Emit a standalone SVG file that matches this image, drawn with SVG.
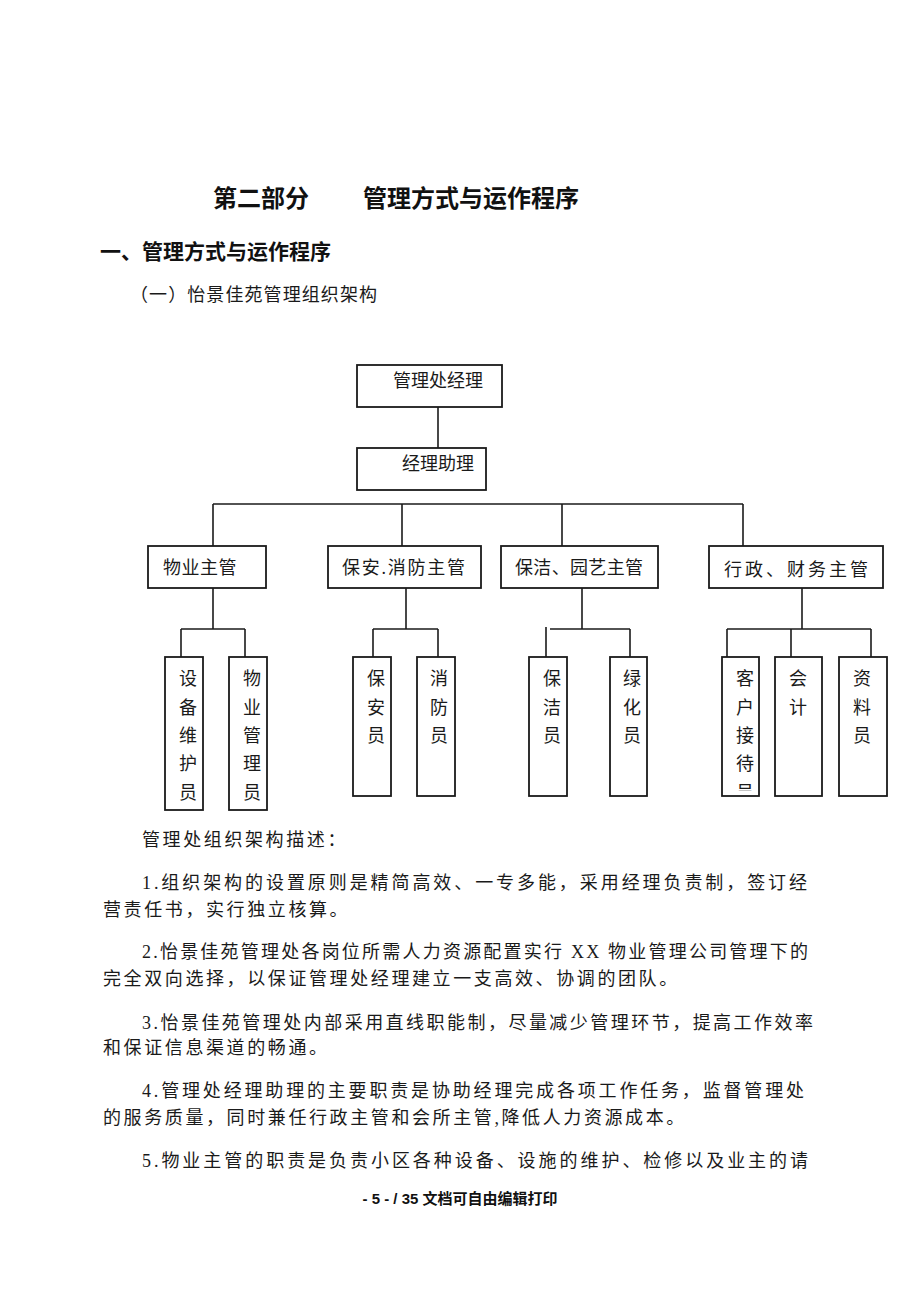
<svg xmlns="http://www.w3.org/2000/svg" width="920" height="1300" viewBox="0 0 920 1300">
<style>
.bg{fill:#ffffff}
.box{fill:#ffffff;stroke:#1a1a1a;stroke-width:1.8}
.ln{stroke:#1a1a1a;stroke-width:1.6;fill:none}
.t{font-family:"Liberation Serif","Noto Sans CJK SC",serif;font-size:18px;fill:#1a1a1a}
.h1{font-family:"Liberation Sans","Noto Sans CJK SC",sans-serif;font-size:24px;font-weight:bold;fill:#111}
.h2{font-family:"Liberation Sans","Noto Sans CJK SC",sans-serif;font-size:21px;font-weight:bold;fill:#111}
.v{font-family:"Liberation Serif","Noto Sans CJK SC",serif;font-size:18px;fill:#1a1a1a;text-anchor:middle}
.p{font-family:"Liberation Serif","Noto Sans CJK SC",serif;font-size:18px;fill:#1a1a1a;letter-spacing:2.6px}
.pj{font-family:"Liberation Serif","Noto Sans CJK SC",serif;font-size:18px;fill:#1a1a1a}
.ft{font-family:"Liberation Sans","Noto Sans CJK SC",sans-serif;font-size:15px;font-weight:bold;fill:#111;text-anchor:middle}
</style>
<defs>
<clipPath id="clipKehu"><rect x="722" y="657" width="37" height="134"/></clipPath>
</defs>
<rect class="bg" x="0" y="0" width="920" height="1300"/>

<g id="titles">
<text class="h1" x="213" y="207">第二部分</text>
<text class="h1" x="363" y="207">管理方式与运作程序</text>
<text class="h2" x="100" y="259">一、管理方式与运作程序</text>
<text class="t" x="130" y="301" textLength="247" lengthAdjust="spacing">（一）怡景佳苑管理组织架构</text>
</g>

<g id="connectors">
<line class="ln" x1="438" y1="407" x2="438" y2="448"/>
<line class="ln" x1="213" y1="504" x2="743" y2="504"/>
<line class="ln" x1="213" y1="504" x2="213" y2="546"/>
<line class="ln" x1="402" y1="504" x2="402" y2="546"/>
<line class="ln" x1="562" y1="504" x2="562" y2="546"/>
<line class="ln" x1="743" y1="504" x2="743" y2="546"/>

<line class="ln" x1="213" y1="588" x2="213" y2="629"/>
<line class="ln" x1="181" y1="629" x2="245" y2="629"/>
<line class="ln" x1="181" y1="629" x2="181" y2="657"/>
<line class="ln" x1="245" y1="629" x2="245" y2="657"/>

<line class="ln" x1="406" y1="588" x2="406" y2="629"/>
<line class="ln" x1="373" y1="629" x2="438" y2="629"/>
<line class="ln" x1="373" y1="629" x2="373" y2="657"/>
<line class="ln" x1="438" y1="629" x2="438" y2="657"/>

<line class="ln" x1="582" y1="588" x2="582" y2="629"/>
<line class="ln" x1="550" y1="629" x2="630" y2="629"/>
<line class="ln" x1="546" y1="627" x2="546" y2="657"/>
<line class="ln" x1="630" y1="629" x2="630" y2="657"/>

<line class="ln" x1="802" y1="588" x2="802" y2="629"/>
<line class="ln" x1="727" y1="629" x2="871" y2="629"/>
<line class="ln" x1="727" y1="629" x2="727" y2="657"/>
<line class="ln" x1="791" y1="629" x2="791" y2="657"/>
<line class="ln" x1="871" y1="629" x2="871" y2="657"/>
</g>

<g id="n-manager">
<rect class="box" x="357" y="365" width="145" height="42"/>
<text class="t" x="393" y="387">管理处经理</text>
</g>
<g id="n-assistant">
<rect class="box" x="357" y="448" width="129" height="42"/>
<text class="t" x="402" y="470">经理助理</text>
</g>

<g id="n-wuye">
<rect class="box" x="148" y="546" width="118" height="42"/>
<text class="t" x="163" y="574" letter-spacing="0.5">物业主管</text>
</g>
<g id="n-baoan">
<rect class="box" x="328" y="546" width="153" height="42"/>
<text class="t" x="342" y="574" textLength="123" lengthAdjust="spacing">保安.消防主管</text>
</g>
<g id="n-baojie">
<rect class="box" x="501" y="546" width="157" height="42"/>
<text class="t" x="515" y="574" textLength="128" lengthAdjust="spacing">保洁、园艺主管</text>
</g>
<g id="n-xingzheng">
<rect class="box" x="709" y="546" width="174" height="42"/>
<text class="t" x="724" y="576" font-size="21" textLength="144" lengthAdjust="spacing">行政、财务主管</text>
</g>

<g id="n-shebei">
<rect class="box" x="165" y="657" width="38" height="153"/>
<text class="v" x="188" y="685">设</text>
<text class="v" x="188" y="714">备</text>
<text class="v" x="188" y="742">维</text>
<text class="v" x="188" y="770">护</text>
<text class="v" x="188" y="799">员</text>
</g>
<g id="n-wuyeguanli">
<rect class="box" x="229" y="657" width="38" height="153"/>
<text class="v" x="252" y="685">物</text>
<text class="v" x="252" y="714">业</text>
<text class="v" x="252" y="742">管</text>
<text class="v" x="252" y="770">理</text>
<text class="v" x="252" y="799">员</text>
</g>
<g id="n-baoanyuan">
<rect class="box" x="353" y="657" width="38" height="139"/>
<text class="v" x="376" y="685">保</text>
<text class="v" x="376" y="714">安</text>
<text class="v" x="376" y="742">员</text>
</g>
<g id="n-xiaofang">
<rect class="box" x="417" y="657" width="38" height="139"/>
<text class="v" x="439" y="685">消</text>
<text class="v" x="439" y="714">防</text>
<text class="v" x="439" y="742">员</text>
</g>
<g id="n-baojieyuan">
<rect class="box" x="529" y="657" width="38" height="139"/>
<text class="v" x="552" y="685">保</text>
<text class="v" x="552" y="714">洁</text>
<text class="v" x="552" y="742">员</text>
</g>
<g id="n-lvhua">
<rect class="box" x="610" y="657" width="37" height="139"/>
<text class="v" x="632" y="685">绿</text>
<text class="v" x="632" y="714">化</text>
<text class="v" x="632" y="742">员</text>
</g>
<g id="n-kehu">
<rect class="box" x="722" y="657" width="37" height="139"/>
<g clip-path="url(#clipKehu)">
<text class="v" x="745" y="685">客</text>
<text class="v" x="745" y="714">户</text>
<text class="v" x="745" y="742">接</text>
<text class="v" x="745" y="770">待</text>
<text class="v" x="745" y="799">员</text>
</g>
</g>
<g id="n-kuaiji">
<rect class="box" x="775" y="657" width="47" height="139"/>
<text class="v" x="798" y="685">会</text>
<text class="v" x="798" y="714">计</text>
</g>
<g id="n-ziliao">
<rect class="box" x="839" y="657" width="48" height="139"/>
<text class="v" x="862" y="685">资</text>
<text class="v" x="862" y="714">料</text>
<text class="v" x="862" y="742">员</text>
</g>

<g id="body">
<text class="p" x="142" y="846">管理处组织架构描述：</text>
<text class="pj" x="142" y="889" textLength="665" lengthAdjust="spacing">1.组织架构的设置原则是精简高效、一专多能，采用经理负责制，签订经</text>
<text class="p" x="103" y="916">营责任书，实行独立核算。</text>
<text class="pj" x="142" y="958" textLength="666" lengthAdjust="spacing">2.怡景佳苑管理处各岗位所需人力资源配置实行 XX 物业管理公司管理下的</text>
<text class="p" x="103" y="985">完全双向选择，以保证管理处经理建立一支高效、协调的团队。</text>
<text class="pj" x="142" y="1029" textLength="671" lengthAdjust="spacing">3.怡景佳苑管理处内部采用直线职能制，尽量减少管理环节，提高工作效率</text>
<text class="p" x="103" y="1054">和保证信息渠道的畅通。</text>
<text class="pj" x="142" y="1097" textLength="662" lengthAdjust="spacing">4.管理处经理助理的主要职责是协助经理完成各项工作任务，监督管理处</text>
<text class="p" x="103" y="1124">的服务质量，同时兼任行政主管和会所主管,降低人力资源成本。</text>
<text class="pj" x="142" y="1167" textLength="666" lengthAdjust="spacing">5.物业主管的职责是负责小区各种设备、设施的维护、检修以及业主的请</text>
<text class="ft" x="460" y="1204">- 5 - / 35 文档可自由编辑打印</text>
</g>
</svg>
